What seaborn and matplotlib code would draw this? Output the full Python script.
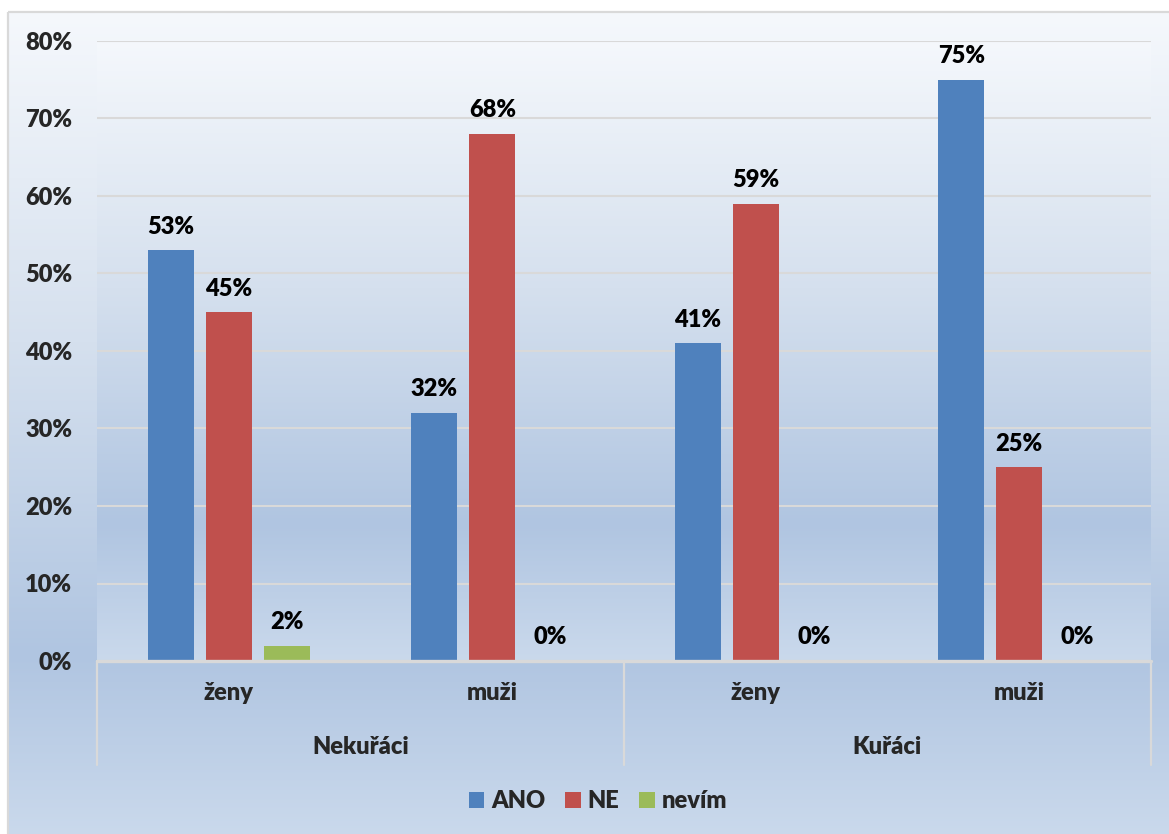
import numpy as np
import pandas as pd
import matplotlib
matplotlib.use("Agg")
import matplotlib.pyplot as plt
import matplotlib.transforms as mtransforms
from matplotlib.colors import to_rgb
from matplotlib.patches import Rectangle
import seaborn as sns

# --- data -------------------------------------------------------------
skupiny = ["Nekuřáci", "Nekuřáci", "Kuřáci", "Kuřáci"]
pohlavi = ["ženy", "muži", "ženy", "muži"]
odpovedi = ["ANO", "NE", "nevím"]
ano = [53, 32, 41, 75]
ne = [45, 68, 59, 25]
nevim = [2, 0, 0, 0]
barvy = ["#4F81BD", "#C0504D", "#9BBB59"]
yticks = [0, 10, 20, 30, 40, 50, 60, 70, 80]

kategorie = [f"{s} {p}" for s, p in zip(skupiny, pohlavi)]
rows = []
for odp, hodnoty in zip(odpovedi, [ano, ne, nevim]):
    for kat, v in zip(kategorie, hodnoty):
        rows.append({"kategorie": kat, "odpoved": odp, "podil": v})
df = pd.DataFrame(rows)

# --- style --------------------------------------------------------------
sns.set_style("white")
plt.rcParams["font.family"] = ["Lato", "DejaVu Sans"]
FS = 17
FW = "heavy"

W, H = 1169, 834
fig = plt.figure(figsize=(W / 100, H / 100), dpi=100, facecolor="white")

# gradient helper (vertical, top -> bottom)
stops = [(0.0, "#F5F8FC"), (0.40, "#D5E0EE"), (0.78, "#B0C5E1"), (1.0, "#CAD9EC")]


def gradient(n=600):
    t = np.linspace(0, 1, n)
    pos = [s[0] for s in stops]
    cols = np.array([to_rgb(s[1]) for s in stops])
    img = np.stack([np.interp(t, pos, cols[:, k]) for k in range(3)], axis=1)
    return img[:, None, :]


# chart background with border
bg = fig.add_axes([0, 0, 1, 1])
bg.set_zorder(-5)
bg.set_xlim(0, W)
bg.set_ylim(H, 0)
bg.axis("off")
bg.imshow(gradient(), extent=[9, W + 2, H + 2, 13], aspect="auto", zorder=0)
bg.add_patch(Rectangle((8, 12), W + 10, H + 10, fill=False, edgecolor="#D9D9D9",
                       linewidth=1.6, zorder=1))

# plot area
left, right, top, bottom = 97, 1151, 41, 661
ax = fig.add_axes([left / W, (H - bottom) / H, (right - left) / W, (bottom - top) / H])
ax.set_facecolor("none")
ax.imshow(gradient(), extent=[0, 1, 0, 1], transform=ax.transAxes,
          aspect="auto", zorder=0)

sns.barplot(data=df, x="kategorie", y="podil", hue="odpoved", order=kategorie,
            hue_order=odpovedi, palette=barvy, width=0.66, gap=0.21,
            saturation=1, ax=ax, zorder=2, legend=True, errorbar=None,
            linewidth=0, edgecolor="none")

for cont in ax.containers:
    vals = [p.get_height() for p in cont]
    ax.bar_label(cont, labels=[f"{v:.0f}%" for v in vals], padding=9,
                 fontsize=FS, fontweight=FW, color="black")

ax.set_xlim(-0.5, 3.5)
ax.set_ylim(0, 80)
ax.set_yticks(yticks)
ax.set_yticklabels([f"{v}%" for v in yticks], fontsize=FS, fontweight=FW)
ax.tick_params(axis="y", length=0, pad=18)
ax.set_xticks([])
ax.set_xlabel("")
ax.set_ylabel("")
for s in ax.spines.values():
    s.set_visible(False)
ax.yaxis.grid(True, color="#D9D9D9", linewidth=1.5)
ax.set_axisbelow(True)
ax.axhline(0, color="#D9D9D9", linewidth=2.4, zorder=3, clip_on=False)

# two-level category labels
trans = mtransforms.blended_transform_factory(ax.transData, ax.transAxes)
h_px = bottom - top
for i, p in enumerate(pohlavi):
    ax.text(i, -(693 - bottom) / h_px, p, transform=trans, ha="center", va="center",
            fontsize=FS, fontweight=FW)
for j, s in enumerate(["Nekuřáci", "Kuřáci"]):
    ax.text(2 * j + 0.5, -(747 - bottom) / h_px, s, transform=trans, ha="center",
            va="center", fontsize=FS, fontweight=FW)
for xs in [-0.5, 1.5, 3.5]:
    ax.plot([xs, xs], [0, -(765 - bottom) / h_px], transform=trans, color="#D9D9D9",
            linewidth=1.6, clip_on=False, zorder=3)

# legend
handles, labels = ax.get_legend_handles_labels()
ax.get_legend().remove()
fig.legend(handles, labels, loc="center", bbox_to_anchor=(598 / W, (H - 801) / H),
           ncol=3, frameon=False, handlelength=0.65, handleheight=0.65,
           handletextpad=0.3, columnspacing=0.85,
           prop={"size": FS, "weight": FW})

fig.savefig("out.png", dpi=100, facecolor="white")
